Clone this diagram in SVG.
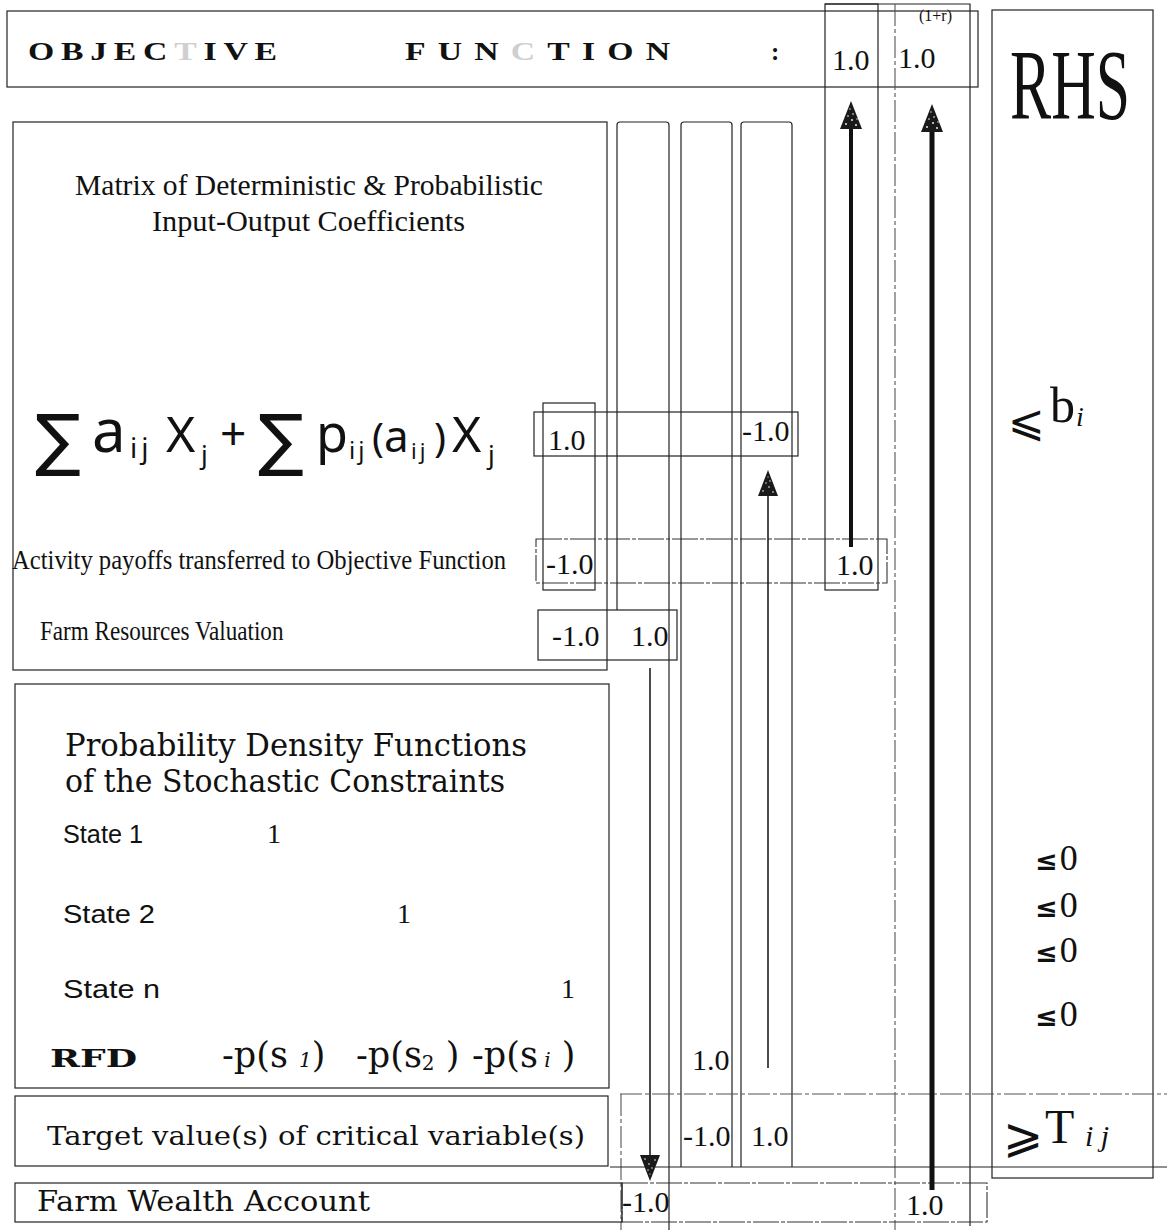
<svg xmlns="http://www.w3.org/2000/svg" width="1167" height="1230" viewBox="0 0 1167 1230">
<defs>
<style>
.box{fill:none;stroke:#222;stroke-width:1.2}
.dbox{fill:none;stroke:#333;stroke-width:1.1;stroke-dasharray:26 2 4 2}
.ln{fill:none;stroke:#222;stroke-width:1.2}
.dln{fill:none;stroke:#555;stroke-width:1.1;stroke-dasharray:22 3 4 3}
.serif{font-family:"Liberation Serif","DejaVu Serif",serif;fill:#111}
.pal{font-family:"DejaVu Serif","Liberation Serif",serif;fill:#111}
.sans{font-family:"Liberation Sans","DejaVu Sans",sans-serif;fill:#111}
.math{font-family:"DejaVu Sans","Noto Sans",sans-serif;fill:#111}
.form{font-family:"Noto Sans","DejaVu Sans",sans-serif;fill:#111}
.num{font-family:"Liberation Serif","DejaVu Serif",serif;font-size:30px;fill:#111}
.hdr{font-family:"Liberation Serif","DejaVu Serif",serif;font-weight:bold;font-size:25px;fill:#111}
.fade{fill:#cfcfcf}
.thick{stroke:#111;fill:none}
</style>
<marker id="headL" viewBox="0 0 28 22" refX="1" refY="11" markerWidth="28" markerHeight="22" markerUnits="userSpaceOnUse" orient="auto">
<path d="M0,0 L28,11 L0,22 Z" fill="#1a1a1a"/>
<g fill="#fff"><circle cx="5" cy="6" r="0.9"/><circle cx="9" cy="12" r="0.9"/><circle cx="4" cy="16" r="0.9"/><circle cx="13" cy="8" r="0.8"/><circle cx="15" cy="13" r="0.8"/><circle cx="20" cy="10" r="0.7"/><circle cx="10" cy="17" r="0.7"/></g>
</marker>
<marker id="headS" viewBox="0 0 26 20" refX="1" refY="10" markerWidth="26" markerHeight="20" markerUnits="userSpaceOnUse" orient="auto">
<path d="M0,0 L26,10 L0,20 Z" fill="#1a1a1a"/>
<g fill="#fff"><circle cx="5" cy="5" r="0.8"/><circle cx="9" cy="11" r="0.8"/><circle cx="4" cy="15" r="0.8"/><circle cx="13" cy="8" r="0.7"/><circle cx="15" cy="12" r="0.7"/><circle cx="19" cy="10" r="0.6"/></g>
</marker>
</defs>

<!-- Objective function header -->
<g id="objective">
<rect class="box" x="7" y="11" width="971" height="76"/>
<text class="hdr" transform="translate(28,60) scale(1.35,1)" letter-spacing="5">OBJEC<tspan class="fade">T</tspan>IVE</text>
<text class="hdr" transform="translate(405,60) scale(1.35,1)" letter-spacing="9">FUN<tspan class="fade">C</tspan>TION</text>
<text class="hdr" x="771" y="60">:</text>
</g>

<!-- Objective coefficient columns -->
<g id="col-obj1">
<rect class="box" x="825" y="4" width="53" height="586"/>
<text class="num" x="832" y="70" font-size="29">1.0</text>
</g>
<g id="col-obj2">
<path class="ln" d="M825,4 H970 V1226"/>
<path class="dln" d="M895,4 V1230"/>
<text class="num" x="898" y="68" font-size="29">1.0</text>
<text class="serif" x="919" y="21" font-size="16">(1+r)</text>
</g>

<!-- RHS column -->
<g id="rhs">
<rect class="box" x="992" y="10" width="161" height="1168"/>
<text class="serif" transform="translate(1010,118) scale(0.617,1)" font-size="100">RHS</text>
<text class="math" x="1008" y="436" font-size="44">⩽</text>
<text class="serif" x="1050" y="422" font-size="50">b</text>
<text class="serif" x="1076" y="426" font-size="28" font-style="italic">i</text>
<text x="1035" y="870"><tspan class="math" font-size="27" font-weight="bold">≤</tspan><tspan class="serif" font-size="36" dx="2">0</tspan></text>
<text x="1035" y="917"><tspan class="math" font-size="27" font-weight="bold">≤</tspan><tspan class="serif" font-size="36" dx="2">0</tspan></text>
<text x="1035" y="962"><tspan class="math" font-size="27" font-weight="bold">≤</tspan><tspan class="serif" font-size="36" dx="2">0</tspan></text>
<text x="1035" y="1026"><tspan class="math" font-size="27" font-weight="bold">≤</tspan><tspan class="serif" font-size="36" dx="2">0</tspan></text>
<text class="math" x="1003" y="1152" font-size="48">⩾</text>
<text class="serif" x="1045" y="1143" font-size="48">T</text>
<text class="serif" x="1085" y="1146" font-size="30" font-style="italic">i j</text>
</g>

<!-- Matrix block -->
<g id="matrix">
<rect class="box" x="13" y="122" width="594" height="548"/>
<text class="serif" x="75" y="195" font-size="30" textLength="468" lengthAdjust="spacingAndGlyphs">Matrix of Deterministic &amp; Probabilistic</text>
<text class="serif" x="152" y="231" font-size="30" textLength="313" lengthAdjust="spacingAndGlyphs">Input-Output Coefficients</text>
<text class="form" font-size="50">
<tspan class="math" x="35" y="463" font-size="68">∑</tspan><tspan x="92" y="452" font-size="60">a</tspan><tspan x="130" y="458" font-size="28" letter-spacing="4">ij</tspan><tspan x="166" y="452">X</tspan><tspan x="201" y="464" font-size="26">j</tspan><tspan x="220" y="450" font-size="46">+</tspan><tspan class="math" x="258" y="463" font-size="68">∑</tspan><tspan x="316" y="452" font-size="52">p</tspan><tspan x="349" y="459" font-size="24" letter-spacing="3">ij</tspan><tspan x="372" y="452" font-size="40">(</tspan><tspan x="384" y="452" font-size="44">a</tspan><tspan x="411" y="459" font-size="22" letter-spacing="3">ij</tspan><tspan x="434" y="452" font-size="40">)</tspan><tspan x="452" y="452">X</tspan><tspan x="488" y="464" font-size="26">j</tspan>
</text>
<text class="serif" transform="translate(12,569) scale(0.88,1)" font-size="28">Activity payoffs transferred to Objective Function</text>
<text class="serif" transform="translate(40,640) scale(0.826,1)" font-size="28">Farm Resources Valuation</text>
</g>

<!-- Matrix cells -->
<g id="row-coeff">
<rect class="box" x="534" y="412" width="264" height="44"/>
<rect class="box" x="543" y="403" width="52" height="187"/>
<text class="num" x="548" y="450">1.0</text>
<text class="num" x="742" y="441">-1.0</text>
</g>
<g id="row-payoff">
<rect class="dbox" x="536" y="539" width="351" height="44"/>
<text class="num" x="546" y="574">-1.0</text>
<text class="num" x="836" y="575">1.0</text>
</g>
<g id="row-resources">
<rect class="box" x="538" y="610" width="139" height="50"/>
<text class="num" x="552" y="646">-1.0</text>
<text class="num" x="631" y="646">1.0</text>
</g>

<!-- Activity columns -->
<g id="col-a">
<path class="ln" d="M617,610 V125 Q617,122 620,122 H666 Q669,122 669,125 V1230"/>
<path class="dln" d="M621,1094 V1230"/>
</g>
<g id="col-b">
<path class="ln" d="M681,1167 V125 Q681,122 684,122 H729 Q732,122 732,125 V1167"/>
<text class="num" x="692" y="1070">1.0</text>
<text class="num" x="683" y="1146">-1.0</text>
</g>
<g id="col-c">
<path class="ln" d="M741,1167 V125 Q741,122 744,122 H789 Q792,122 792,125 V1167"/>
<text class="num" x="751" y="1146">1.0</text>
</g>

<!-- Probability block -->
<g id="pdf">
<rect class="box" x="15" y="684" width="594" height="404"/>
<text class="pal" x="65" y="756" font-size="31" textLength="462" lengthAdjust="spacingAndGlyphs">Probability Density Functions</text>
<text class="pal" x="65" y="792" font-size="31" textLength="440" lengthAdjust="spacingAndGlyphs">of the Stochastic Constraints</text>
<text class="sans" x="63" y="843" font-size="25" textLength="80" lengthAdjust="spacingAndGlyphs">State 1</text>
<text class="serif" x="267" y="843" font-size="28">1</text>
<text class="sans" x="63" y="923" font-size="25" textLength="92" lengthAdjust="spacingAndGlyphs">State 2</text>
<text class="serif" x="397" y="923" font-size="28">1</text>
<text class="sans" x="63" y="998" font-size="25" textLength="97" lengthAdjust="spacingAndGlyphs">State n</text>
<text class="serif" x="561" y="998" font-size="28">1</text>
<text class="pal" x="50" y="1067" font-size="24" font-weight="bold" textLength="87" lengthAdjust="spacingAndGlyphs">RFD</text>
<text class="pal" x="222" y="1067" font-size="35">-p(s <tspan font-size="20" font-style="italic">1</tspan>)</text>
<text class="pal" x="356" y="1067" font-size="35">-p(s<tspan font-size="20" dy="3">2</tspan><tspan dy="-3"> )</tspan></text>
<text class="pal" x="472" y="1067" font-size="35">-p(s<tspan font-size="20" font-style="italic"> i</tspan> )</text>
</g>

<!-- Target row -->
<g id="target">
<rect class="box" x="15" y="1096" width="593" height="70"/>
<text class="pal" x="47" y="1145" font-size="26" textLength="538" lengthAdjust="spacingAndGlyphs">Target value(s) of critical variable(s)</text>
<path class="dln" d="M620,1094 H1167"/>
<path class="ln" d="M610,1167 H1167"/>
</g>

<!-- Farm wealth row -->
<g id="wealth">
<rect class="box" x="15" y="1183" width="607" height="39"/>
<rect class="dbox" x="622" y="1183" width="365" height="39"/>
<text class="pal" x="37" y="1211" font-size="27" textLength="333" lengthAdjust="spacingAndGlyphs">Farm Wealth Account</text>
<text class="num" x="622" y="1212">-1.0</text>
<text class="num" x="906" y="1215">1.0</text>
</g>

<!-- Connectors -->
<g id="connectors">
<path class="thick" d="M851,547 V128" stroke-width="4" marker-end="url(#headL)"/>
<path class="thick" d="M932,1190 V131" stroke-width="5" marker-end="url(#headL)"/>
<path class="thick" d="M768,1068 V495" stroke-width="1.5" marker-end="url(#headS)"/>
<path class="thick" d="M650,668 V1156" stroke-width="1.5" marker-end="url(#headS)"/>
</g>
</svg>
